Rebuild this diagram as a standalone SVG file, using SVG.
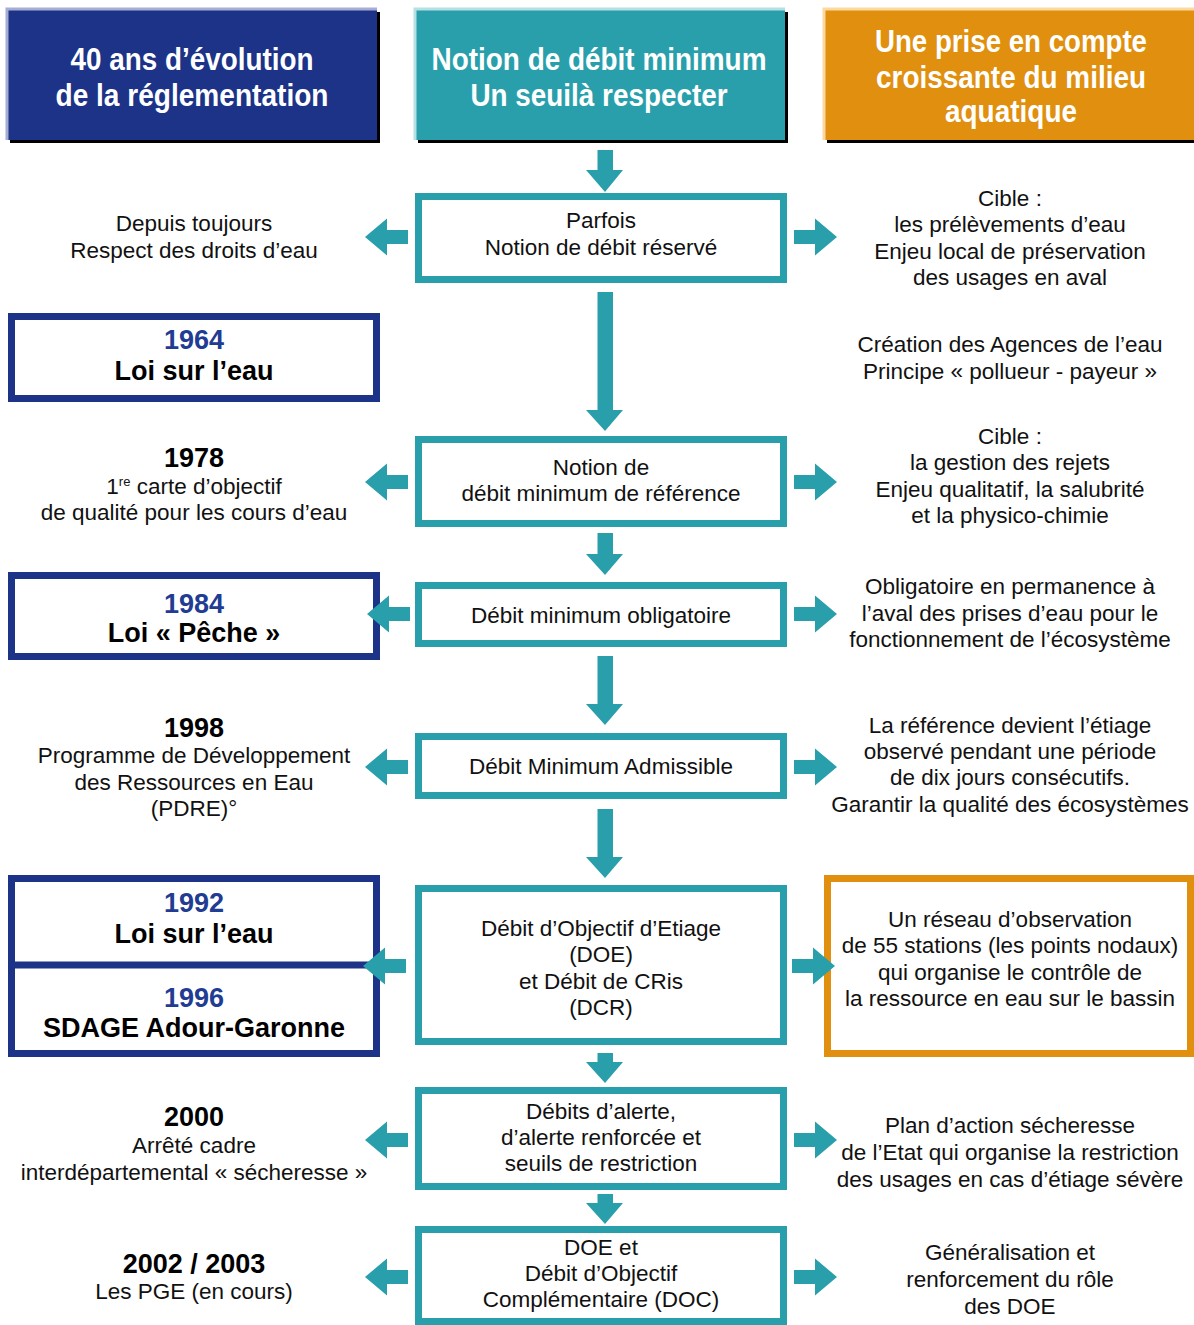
<svg xmlns="http://www.w3.org/2000/svg" width="1194" height="1325" viewBox="0 0 1194 1325">
<style>
.t{font-family:"Liberation Sans",Arial,Helvetica,sans-serif;font-size:22.5px;fill:#111;text-anchor:middle}
.b{font-family:"Liberation Sans",Arial,Helvetica,sans-serif;font-size:27px;font-weight:bold;fill:#000;text-anchor:middle}
.y{fill:#213c92}
.h{font-family:"Liberation Sans Narrow","Liberation Sans",Arial,sans-serif;font-size:31px;font-weight:bold;fill:#fff;text-anchor:middle}
.tb{fill:#fff;stroke:#2a9fac;stroke-width:7}
.nb{fill:#fff;stroke:#1c3387;stroke-width:7}
.ob{fill:#fff;stroke:#e08f0e;stroke-width:7}
.ar{fill:#2a9fac}
</style>
<defs>
<polygon id="aL" points="0,0 22,-18.5 22,-7 43,-7 43,7 22,7 22,18.5"/>
<polygon id="aR" points="0,0 -22,-18.5 -22,-7 -43,-7 -43,7 -22,7 -22,18.5"/>
</defs>

<g id="header-left">
<rect x="10" y="12" width="370" height="131" fill="#000"/>
<rect x="7" y="9" width="370" height="131" fill="#1c3387"/>
<path d="M7,140 V9 H377" fill="none" stroke="#a6acd4" stroke-width="3"/>
<text class="h" x="192" y="70" textLength="243" lengthAdjust="spacingAndGlyphs">40 ans d’évolution</text>
<text class="h" x="192" y="106" textLength="273" lengthAdjust="spacingAndGlyphs">de la réglementation</text>
</g>
<g id="header-middle">
<rect x="418" y="12" width="370" height="131" fill="#000"/>
<rect x="415" y="9" width="370" height="131" fill="#2a9fac"/>
<path d="M415,140 V9 H785" fill="none" stroke="#b5e0e4" stroke-width="3"/>
<text class="h" x="599" y="70" textLength="335" lengthAdjust="spacingAndGlyphs">Notion de débit minimum</text>
<text class="h" x="599" y="106" textLength="257" lengthAdjust="spacingAndGlyphs">Un seuilà respecter</text>
</g>
<g id="header-right">
<rect x="827" y="12" width="370" height="131" fill="#000"/>
<rect x="824" y="9" width="370" height="131" fill="#e08f0e"/>
<path d="M824,140 V9 H1194" fill="none" stroke="#fcd9a0" stroke-width="3"/>
<text class="h" x="1011" y="52" textLength="272" lengthAdjust="spacingAndGlyphs">Une prise en compte</text>
<text class="h" x="1011" y="88" textLength="270" lengthAdjust="spacingAndGlyphs">croissante du milieu</text>
<text class="h" x="1011" y="122" textLength="132" lengthAdjust="spacingAndGlyphs">aquatique</text>
</g>

<g id="n-reserve">
<rect class="tb" x="418.5" y="196.5" width="365" height="83"/>
<text class="t" x="601" y="228">Parfois</text>
<text class="t" x="601" y="255">Notion de débit réservé</text>
</g>
<g id="n-reference">
<rect class="tb" x="418.5" y="439.5" width="365" height="84"/>
<text class="t" x="601" y="475">Notion de</text>
<text class="t" x="601" y="501">débit minimum de référence</text>
</g>
<g id="n-obligatoire">
<rect class="tb" x="418.5" y="585.5" width="365" height="58"/>
<text class="t" x="601" y="623">Débit minimum obligatoire</text>
</g>
<g id="n-dma">
<rect class="tb" x="418.5" y="736.5" width="365" height="59"/>
<text class="t" x="601" y="774">Débit Minimum Admissible</text>
</g>
<g id="n-doe">
<rect class="tb" x="418.5" y="888.5" width="365" height="153"/>
<text class="t" x="601" y="936">Débit d’Objectif d’Etiage</text>
<text class="t" x="601" y="962">(DOE)</text>
<text class="t" x="601" y="989">et Débit de CRis</text>
<text class="t" x="601" y="1015">(DCR)</text>
</g>
<g id="n-alerte">
<rect class="tb" x="418.5" y="1090.5" width="365" height="96"/>
<text class="t" x="601" y="1119">Débits d’alerte,</text>
<text class="t" x="601" y="1145">d’alerte renforcée et</text>
<text class="t" x="601" y="1171">seuils de restriction</text>
</g>
<g id="n-doc">
<rect class="tb" x="418.5" y="1229.5" width="365" height="92"/>
<text class="t" x="601" y="1255">DOE et</text>
<text class="t" x="601" y="1281">Débit d’Objectif</text>
<text class="t" x="601" y="1307">Complémentaire (DOC)</text>
</g>

<g id="l-toujours">
<text class="t" x="194" y="231">Depuis toujours</text>
<text class="t" x="194" y="258">Respect des droits d’eau</text>
</g>
<g id="l-1964">
<rect class="nb" x="11.5" y="316.5" width="365" height="82"/>
<text class="b y" x="194" y="349">1964</text>
<text class="b" x="194" y="380">Loi sur l’eau</text>
</g>
<g id="l-1978">
<text class="b" x="194" y="467">1978</text>
<text class="t" x="194" y="494">1<tspan font-size="13" dy="-8">re</tspan><tspan dy="8"> carte d’objectif</tspan></text>
<text class="t" x="194" y="520">de qualité pour les cours d’eau</text>
</g>
<g id="l-1984">
<rect class="nb" x="11.5" y="575.5" width="365" height="81"/>
<text class="b y" x="194" y="613">1984</text>
<text class="b" x="194" y="642">Loi « Pêche »</text>
</g>
<g id="l-1998">
<text class="b" x="194" y="737">1998</text>
<text class="t" x="194" y="763">Programme de Développement</text>
<text class="t" x="194" y="790">des Ressources en Eau</text>
<text class="t" x="194" y="816">(PDRE)°</text>
</g>
<g id="l-1992-1996">
<rect class="nb" x="11.5" y="878.5" width="365" height="175"/>
<line x1="11.5" y1="965" x2="376.5" y2="965" stroke="#1c3387" stroke-width="7"/>
<text class="b y" x="194" y="912">1992</text>
<text class="b" x="194" y="943">Loi sur l’eau</text>
<text class="b y" x="194" y="1007">1996</text>
<text class="b" x="194" y="1037">SDAGE Adour-Garonne</text>
</g>
<g id="l-2000">
<text class="b" x="194" y="1126">2000</text>
<text class="t" x="194" y="1153">Arrêté cadre</text>
<text class="t" x="194" y="1180">interdépartemental « sécheresse »</text>
</g>
<g id="l-2002">
<text class="b" x="194" y="1273">2002 / 2003</text>
<text class="t" x="194" y="1299">Les PGE (en cours)</text>
</g>

<g id="r-cible1">
<text class="t" x="1010" y="206">Cible :</text>
<text class="t" x="1010" y="232">les prélèvements d’eau</text>
<text class="t" x="1010" y="259">Enjeu local de préservation</text>
<text class="t" x="1010" y="285">des usages en aval</text>
</g>
<g id="r-agences">
<text class="t" x="1010" y="352">Création des Agences de l’eau</text>
<text class="t" x="1010" y="379">Principe « pollueur - payeur »</text>
</g>
<g id="r-cible2">
<text class="t" x="1010" y="444">Cible :</text>
<text class="t" x="1010" y="470">la gestion des rejets</text>
<text class="t" x="1010" y="497">Enjeu qualitatif, la salubrité</text>
<text class="t" x="1010" y="523">et la physico-chimie</text>
</g>
<g id="r-obligatoire">
<text class="t" x="1010" y="594">Obligatoire en permanence à</text>
<text class="t" x="1010" y="621">l’aval des prises d’eau pour le</text>
<text class="t" x="1010" y="647">fonctionnement de l’écosystème</text>
</g>
<g id="r-reference">
<text class="t" x="1010" y="733">La référence devient l’étiage</text>
<text class="t" x="1010" y="759">observé pendant une période</text>
<text class="t" x="1010" y="785">de dix jours consécutifs.</text>
<text class="t" x="1010" y="812">Garantir la qualité des écosystèmes</text>
</g>
<g id="r-reseau">
<rect class="ob" x="827.5" y="878.5" width="363" height="175"/>
<text class="t" x="1010" y="927">Un réseau d’observation</text>
<text class="t" x="1010" y="953">de 55 stations (les points nodaux)</text>
<text class="t" x="1010" y="980">qui organise le contrôle de</text>
<text class="t" x="1010" y="1006">la ressource en eau sur le bassin</text>
</g>
<g id="r-plan">
<text class="t" x="1010" y="1133">Plan d’action sécheresse</text>
<text class="t" x="1010" y="1160">de l’Etat qui organise la restriction</text>
<text class="t" x="1010" y="1187">des usages en cas d’étiage sévère</text>
</g>
<g id="r-doe">
<text class="t" x="1010" y="1260">Généralisation et</text>
<text class="t" x="1010" y="1287">renforcement du rôle</text>
<text class="t" x="1010" y="1314">des DOE</text>
</g>

<g id="connectors">
<polygon class="ar" points="597.5,150 613,150 613,170 623,170 605,192 586,170 597.5,170"/>
<polygon class="ar" points="597.5,292 613,292 613,410 623,410 605,431 586,410 597.5,410"/>
<polygon class="ar" points="597.5,533 613,533 613,554 623,554 605,575 586,554 597.5,554"/>
<polygon class="ar" points="597.5,656 613,656 613,704 623,704 605,725 586,704 597.5,704"/>
<polygon class="ar" points="597.5,809 613,809 613,857 623,857 605,878 586,857 597.5,857"/>
<polygon class="ar" points="597.5,1053 613,1053 613,1062 623,1062 605,1083 586,1062 597.5,1062"/>
<polygon class="ar" points="597.5,1194 613,1194 613,1203 623,1203 605,1224 586,1203 597.5,1203"/>
<use href="#aL" class="ar" x="365" y="237"/>
<use href="#aR" class="ar" x="837" y="237"/>
<use href="#aL" class="ar" x="365" y="482"/>
<use href="#aR" class="ar" x="837" y="482"/>
<use href="#aL" class="ar" x="367" y="614"/>
<use href="#aR" class="ar" x="837" y="614"/>
<use href="#aL" class="ar" x="365" y="767"/>
<use href="#aR" class="ar" x="837" y="767"/>
<use href="#aL" class="ar" x="363" y="966"/>
<use href="#aR" class="ar" x="835" y="966"/>
<use href="#aL" class="ar" x="365" y="1140"/>
<use href="#aR" class="ar" x="837" y="1140"/>
<use href="#aL" class="ar" x="365" y="1277"/>
<use href="#aR" class="ar" x="837" y="1277"/>
</g>
</svg>
